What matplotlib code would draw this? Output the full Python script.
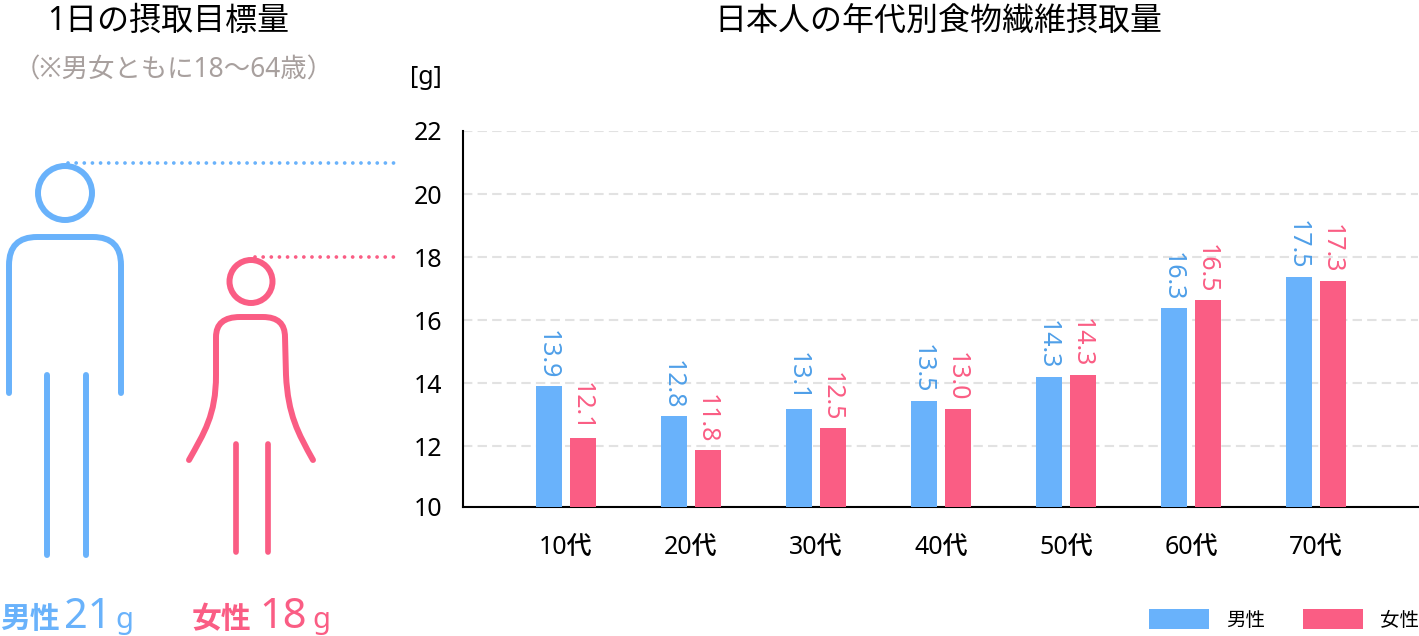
import matplotlib
matplotlib.use("Agg")
import matplotlib.pyplot as plt
import numpy as np
from matplotlib.patches import Circle, PathPatch
from matplotlib.path import Path
from matplotlib.transforms import blended_transform_factory

plt.rcParams['font.family'] = ['Noto Sans', 'Noto Sans CJK JP', 'DejaVu Sans']

# chart values
ages = ["10代", "20代", "30代", "40代", "50代", "60代", "70代"]
male_bars = [13.89, 12.94, 13.19, 13.44, 14.2, 16.37, 17.38]
female_bars = [12.24, 11.86, 12.56, 13.19, 14.27, 16.62, 17.25]
male_labels = ["13.9", "12.8", "13.1", "13.5", "14.3", "16.3", "17.5"]
female_labels = ["12.1", "11.8", "12.5", "13.0", "14.3", "16.5", "17.3"]
# the baseline of the original sits a little above its 10 mark
axis_floor = 10.08
ytick_pos = [axis_floor, 12, 14, 16, 18, 20, 22]
ytick_labels = ["10", "12", "14", "16", "18", "20", "22"]
male_target = 21
female_target = 18

BLUE = "#69b2fb"
PINK = "#fa5d84"
BLUE_TEXT = "#4f9fe8"
GREY = "#a8a09e"

fig = plt.figure(figsize=(14.19, 6.36), dpi=100)

# overlay in pixel coordinates for the illustration and loose text
over = fig.add_axes([0, 0, 1, 1])
over.set_xlim(0, 1419)
over.set_ylim(636, 0)
over.axis("off")

# bar chart
ax = fig.add_axes([463 / 1419, 1 - 506.5 / 636, 955 / 1419, 375.5 / 636])
ax.patch.set_alpha(0)
x = np.arange(len(ages))
offset = 0.136
width = 0.208
b1 = ax.bar(x - offset, male_bars, width, color=BLUE, label="男性", zorder=3)
b2 = ax.bar(x + offset, female_bars, width, color=PINK, label="女性", zorder=3)

for i in range(len(ages)):
    ax.annotate(male_labels[i], (x[i] - offset, male_bars[i]), xytext=(-1, 5),
                textcoords="offset points", rotation=270, ha="center", va="bottom",
                fontsize=18, color=BLUE_TEXT, fontweight="light")
    ax.annotate(female_labels[i], (x[i] + offset, female_bars[i]), xytext=(-1, 5),
                textcoords="offset points", rotation=270, ha="center", va="bottom",
                fontsize=18, color=PINK, fontweight="light")

ax.set_xlim(-0.824, 6.816)
ax.set_ylim(axis_floor, 22)
ax.set_xticks(x)
ax.set_xticklabels(ages, fontsize=18, fontweight="medium")
ax.set_yticks(ytick_pos)
ax.set_yticklabels(ytick_labels, fontsize=18, fontweight="medium")
ax.tick_params(axis="y", length=0, pad=15)
ax.tick_params(axis="x", length=0, pad=21)
ax.grid(axis="y", color="#e2e2e2", lw=1.5, linestyle=(0, (4.5, 2.5)), zorder=0)
ax.spines["top"].set_visible(False)
ax.spines["right"].set_visible(False)
ax.spines["left"].set_linewidth(1.5)
ax.spines["bottom"].set_linewidth(1.5)

fig.legend(handles=[b1, b2], loc="lower right", bbox_to_anchor=(1, 5 / 636), ncol=2,
           frameon=False, fontsize=14, borderpad=0, borderaxespad=0, handlelength=3.09,
           handleheight=1.2, handletextpad=0.88, columnspacing=1.96)

# titles
over.text(47, 21, "1日の摂取目標量", fontsize=23, va="center", ha="left", color="black")
over.text(714, 21, "日本人の年代別食物繊維摂取量", fontsize=23, va="center", ha="left", color="black")
over.text(14, 70, "（※男女ともに18〜64歳）", fontsize=19, va="center", ha="left", color=GREY)
over.text(410, 77, "[g]", fontsize=18, va="center", ha="left", color="black")

# target lines sit on the chart's y scale
trans = blended_transform_factory(over.transData, ax.transData)
over.plot([68, 397], [male_target, male_target], transform=trans, color=BLUE, lw=2.7,
          linestyle=(0, (0.01, 2.16)), dash_capstyle="round", clip_on=False)
over.plot([255, 397], [female_target, female_target], transform=trans, color=PINK, lw=2.7,
          linestyle=(0, (0.01, 2.16)), dash_capstyle="round", clip_on=False)

# male figure
over.add_patch(Circle((65, 193), 27, fill=False, ec=BLUE, lw=4.3))
male_body = Path([(9, 393), (9, 265), (9, 265), (9, 237), (37, 237), (93, 237), (93, 237),
                  (121, 237), (121, 265), (121, 393)],
                 [Path.MOVETO, Path.LINETO, Path.LINETO, Path.CURVE3, Path.CURVE3, Path.LINETO,
                  Path.LINETO, Path.CURVE3, Path.CURVE3, Path.LINETO])
over.add_patch(PathPatch(male_body, fill=False, ec=BLUE, lw=4.3, capstyle="round"))
for leg_x in [46.5, 85.7]:
    over.plot([leg_x, leg_x], [374.5, 554.5], color=BLUE, lw=4.3, solid_capstyle="round")

# female figure
over.add_patch(Circle((251, 281.5), 21.5, fill=False, ec=PINK, lw=4.3))
female_body = Path([(189, 460), (204, 433), (216, 415), (216, 375), (216, 337), (216, 317), (240, 317),
                    (263, 317), (285, 317), (285, 337), (286, 375), (288, 415), (298, 433), (313, 460)],
                   [Path.MOVETO, Path.CURVE4, Path.CURVE4, Path.CURVE4, Path.LINETO, Path.CURVE3,
                    Path.CURVE3, Path.LINETO, Path.CURVE3, Path.CURVE3, Path.LINETO, Path.CURVE4,
                    Path.CURVE4, Path.LINETO])
over.add_patch(PathPatch(female_body, fill=False, ec=PINK, lw=4.3, capstyle="round"))
for leg_x in [236, 268]:
    over.plot([leg_x, leg_x], [444, 552], color=PINK, lw=4.1, solid_capstyle="round")

# target amounts under the figures
over.text(0, 628, "男性", fontsize=21.5, color=BLUE, fontweight="bold", va="baseline", ha="left")
over.text(64, 628, "21", fontsize=30, color=BLUE, fontweight="semibold", va="baseline", ha="left")
over.text(115, 628, "g", fontsize=21, color=BLUE, fontweight="semibold", va="baseline", ha="left")
over.text(192, 628, "女性", fontsize=21.5, color=PINK, fontweight="bold", va="baseline", ha="left")
over.text(259, 628, "18", fontsize=30, color=PINK, fontweight="semibold", va="baseline", ha="left")
over.text(312, 628, "g", fontsize=21, color=PINK, fontweight="semibold", va="baseline", ha="left")

fig.savefig("out.png", dpi=100)
